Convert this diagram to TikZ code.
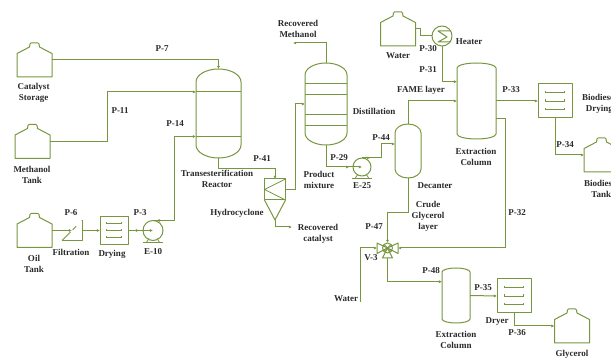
\documentclass[tikz,border=0pt]{standalone}
\usepackage{fontspec}
\setmainfont{Liberation Serif}
\usetikzlibrary{arrows.meta,decorations.markings}
\definecolor{pipegreen}{HTML}{76963F}
\definecolor{inkgray}{HTML}{2A2A2A}

\tikzset{
  unit/.style={inner sep=0pt,outer sep=0pt},
  eq/.style={draw=pipegreen,line width=1pt,line join=round},
  thinline/.style={draw=pipegreen,line width=0.75pt},
  pipe/.style={draw=pipegreen,line width=1pt,-{Latex[length=3.2pt,width=3.2pt]}},
  plainpipe/.style={draw=pipegreen,line width=1pt},
  tipat/.style={postaction={decorate,decoration={markings,mark=at position #1 with {\arrow{Latex[length=3.2pt,width=3.2pt]}}}}},
  txt/.style={align=center,inner sep=0pt,text=inkgray,font=\bfseries\fontsize{9}{11}\selectfont}
}

\newcommand{\tank}[3]{
  \node[unit,minimum width=35pt,minimum height=34pt] (#1) at (#2,#3) {};
  \draw[eq,shift={(#2,#3)}] (-17.5,17) -- (-17.5,-6.5) -- (-5,-13) -- (-4.5,-16) -- (-3.5,-17)
    -- (3.5,-17) -- (4.5,-16) -- (5,-13) -- (17.5,-6.5) -- (17.5,17) -- cycle;
}
\newcommand{\vessel}[6]{
  \node[unit,minimum width=#4pt,minimum height=#5pt] (#1) at (#2,#3) {};
  \draw[eq,shift={(#2,#3)}] ({-#4/2},{-#5/2+#6})
    .. controls ({-#4/2},{-#5/2+.45*#6}) and ({-.55*#4/2},{-#5/2}) .. (0,{-#5/2})
    .. controls ({.55*#4/2},{-#5/2}) and ({#4/2},{-#5/2+.45*#6}) .. ({#4/2},{-#5/2+#6})
    -- ({#4/2},{#5/2-#6})
    .. controls ({#4/2},{#5/2-.45*#6}) and ({.55*#4/2},{#5/2}) .. (0,{#5/2})
    .. controls ({-.55*#4/2},{#5/2}) and ({-#4/2},{#5/2-.45*#6}) .. ({-#4/2},{#5/2-#6})
    -- cycle;
}
\newcommand{\dryer}[6]{
  \node[unit,eq,minimum width=#4pt,minimum height=#4pt] (#1) at (#2,#3) {};
  \foreach \dy in {-#5,0,#5}
    \draw[thinline,shift={(#2,#3)}] (-#6,\dy-1.5) -- (-#6,\dy) -- (#6,\dy) -- (#6,\dy-1.5);
}
\newcommand{\pump}[4]{
  \node[unit,eq,circle,minimum size=#4pt] (#1) at (#2,#3) {};
  \draw[eq,shift={(#2,#3)}] (-10,{#4/2+2.5}) -- (10,{#4/2+2.5});
  \draw[thinline,shift={(#2,#3)}] (-7,{#4/2+2.5}) -- (-4,{#4/2-2}) (7,{#4/2+2.5}) -- (4,{#4/2-2});
}

\begin{document}
\begin{tikzpicture}[x=1pt,y=-1pt]
    \path[use as bounding box,clip] (0,0) rectangle (611,358);

    \tank{catalyst}{34.5}{60}
    \tank{methanol}{32.5}{141.5}
    \tank{oil}{34.5}{230.5}
    \tank{water}{398}{29}
    \tank{biotank}{601.5}{155}
    \tank{glycerol}{572}{326}

    \vessel{reactor}{218.5}{113.5}{45}{89}{13}
    \vessel{distill}{326}{104}{42}{82}{12}
    \vessel{decanter}{408}{151}{26}{54}{9}
    \vessel{column}{476.5}{101}{39}{76}{5}
    \vessel{columnb}{456}{295.5}{28}{55}{4}

    \dryer{drying}{114}{230.5}{28}{7}{7.5}
    \dryer{dryera}{555}{101}{34}{8.5}{9.5}
    \dryer{dryerb}{514}{296}{34}{8.5}{9.5}

    \pump{pumpa}{153}{230.5}{20}
    \pump{pumpb}{362}{167}{18}

    \draw[eq] ([yshift=21.5pt]reactor.west) -- ([yshift=21.5pt]reactor.east);
    \draw[eq] ([yshift=-23pt]reactor.west) -- ([yshift=-23pt]reactor.east);
    \foreach \dy in {21,10,-10,-21}
      \draw[thinline] ([yshift=\dy pt]distill.west) -- ([yshift=\dy pt]distill.east);

    \node[unit,minimum size=20pt] (filter) at (72,230.5) {};
    \draw[eq] (filter.south west) -- (filter.south east) -- (filter.north east);
    \draw[eq,dash pattern=on 12pt off 3pt on 5pt off 8pt] (filter.south west) -- (filter.north east);

    \node[unit,eq,minimum size=21pt] (cyclone) at (275,189.5) {};
    \draw[thinline] (cyclone.west) -- (cyclone.north east) (cyclone.west) -- (cyclone.south east);
    \coordinate (cyclonetip) at (275,220);
    \draw[eq] (cyclone.south west) -- (cyclonetip) -- (cyclone.south east);

    \node[unit,eq,circle,minimum size=20pt] (heater) at (442,36) {};
    \draw[eq] (451,31) -- (438,31) -- (447,37) -- (438,42) -- (451,42);

    \node[unit,eq,circle,minimum size=10pt] (valve) at (387.5,248) {};
    \draw[thinline] (valve.north west) -- (valve.south east) (valve.north east) -- (valve.south west);
    \draw[eq] (valve.center) -- (377,243) -- (377,253.5) -- cycle;
    \draw[eq] (valve.center) -- (398,243) -- (398,253.5) -- cycle;
    \draw[eq] (valve.center) -- (382.5,258) -- (392.5,258) -- cycle;

    \coordinate (recmethanol) at (293,43);
    \coordinate (reccatalyst) at (292,227);
    \coordinate (waterin) at (360,302);

    \draw[pipe] (catalyst.east) -| (reactor.north);
    \draw[pipe] (methanol.east) -| (107,92) -- ([yshift=21.5pt]reactor.west);
    \draw[pipe,tipat=0.07] (pumpa.north) -| (174,136.5) -- ([yshift=-23pt]reactor.west);
    \draw[pipe] (oil.east) -- (filter.center);
    \draw[pipe] (filter.east) -- (drying.west);
    \draw[pipe,tipat=0.44] (drying.east) -- (pumpa.center);
    \draw[pipe] (reactor.south) -- (218.5,169) -| (cyclone.north);
    \draw[pipe] (cyclone.east) -| (295.7,104) -- (distill.west);
    \draw[pipe] (cyclonetip) |- (reccatalyst);
    \draw[pipe] (distill.north) |- (recmethanol);
    \draw[pipe,tipat=0.78] (distill.south) |- (pumpb.center);
    \draw[pipe,tipat=0.17] (pumpb.north) -| (381,144) -- ([yshift=7pt]decanter.west);
    \draw[pipe] (decanter.north) |- (column.west);
    \draw[plainpipe] (water.east) -| (420,36) -- (heater.west);
    \draw[pipe] (heater.south) |- ([yshift=19.3pt]column.west);
    \draw[pipe] (column.east) -- (dryera.west);
    \draw[pipe] (dryera.south) |- (biotank.west);
    \draw[pipe] ([yshift=-18pt]column.east) -| (505.7,248) -- ([xshift=5.5pt]valve.east);
    \draw[pipe] (decanter.south) -- (408,213) -| (valve.north);
    \draw[pipe] (waterin) |- ([xshift=-5.5pt]valve.west);
    \draw[pipe] ([yshift=-5pt]valve.south) |- ([yshift=13.8pt]columnb.west);
    \draw[pipe] (columnb.east) -- (dryerb.west);
    \draw[pipe] (dryerb.south) |- (glycerol.west);

    \node[txt] (lcatalyst) at (33.5,92.5) {Catalyst\\Storage};
    \node[txt] (lmethanol) at (32,174.5) {Methanol\\Tank};
    \node[txt] (loil) at (34,263.5) {Oil\\Tank};
    \node[txt] (lwater) at (398,56) {Water};
    \node[txt] (lbiotank) at (601.3,188.5) {Biodiesel\\Tank};
    \node[txt] (lglycerol) at (572,354) {Glycerol};
    \node[txt] (lreactor) at (217,179) {Transesterification\\Reactor};
    \node[txt] (ldistill) at (374,111) {Distillation};
    \node[txt] (ldecanter) at (435,186) {Decanter};
    \node[txt] (lcolumn) at (476,156.5) {Extraction\\Column};
    \node[txt] (lcolumnb) at (456,339.5) {Extraction\\Column};
    \node[txt] (ldrying) at (112,254) {Drying};
    \node[txt] (ldryera) at (599.3,103.5) {Biodiesel\\Drying};
    \node[txt] (ldryerb) at (497,322) {Dryer};
    \node[txt] (lfilter) at (71,252) {Filtration};
    \node[txt] (lcyclone) at (237,213) {Hydrocyclone};
    \node[txt] (lheater) at (469,42) {Heater};
    \node[txt] (lrecmeth) at (298,28.5) {Recovered\\Methanol};
    \node[txt] (lreccat) at (318,233.5) {Recovered\\catalyst};
    \node[txt] (lproduct) at (319,179.5) {Product\\mixture};
    \node[txt] (lfame) at (421,90) {FAME layer};
    \node[txt] (lcrude) at (428,216.5) {Crude\\Glycerol\\layer};
    \node[txt] (lwaterin) at (346,299) {Water};
    \node[txt] (lea) at (153,252) {E-10};
    \node[txt] (leb) at (362,186) {E-25};
    \node[txt] (lv) at (371,258) {V-3};
    \node[txt] (lp7) at (162,49) {P-7};
    \node[txt] (lp11) at (120,111) {P-11};
    \node[txt] (lp14) at (175,124) {P-14};
    \node[txt] (lp41) at (262,159) {P-41};
    \node[txt] (lp6) at (71,213) {P-6};
    \node[txt] (lp3) at (140,213) {P-3};
    \node[txt] (lp30) at (428,49) {P-30};
    \node[txt] (lp31) at (428,70) {P-31};
    \node[txt] (lp44) at (381,138) {P-44};
    \node[txt] (lp29) at (339,158) {P-29};
    \node[txt] (lp33) at (511,90) {P-33};
    \node[txt] (lp34) at (565,145) {P-34};
    \node[txt] (lp32) at (517,213) {P-32};
    \node[txt] (lp47) at (374,227) {P-47};
    \node[txt] (lp48) at (431,271) {P-48};
    \node[txt] (lp35) at (483,288) {P-35};
    \node[txt] (lp36) at (517,333) {P-36};
  \end{tikzpicture}
\end{document}
